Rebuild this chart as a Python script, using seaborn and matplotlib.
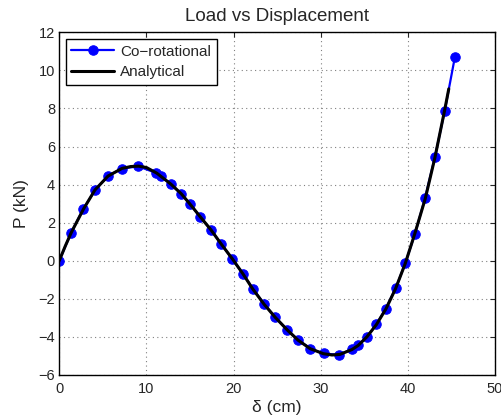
import numpy as np
import pandas as pd
import matplotlib
matplotlib.use("Agg")
import matplotlib.pyplot as plt
import seaborn as sns

# Co-rotational solution (markers)
x_cr = [0, 1.36, 2.76, 4.13, 5.60, 7.16, 9.06, 11.14, 11.70, 12.80, 13.94, 15.03,
        16.17, 17.39, 18.60, 19.85, 21.10, 22.24, 23.52, 24.77, 26.17, 27.40, 28.80,
        30.34, 32.10, 33.60, 34.24, 35.34, 36.40, 37.47, 38.60, 39.70, 40.83, 41.97,
        43.10, 44.24, 45.40]
y_cr = [0, 1.47, 2.72, 3.72, 4.45, 4.84, 4.96, 4.61, 4.43, 4.03, 3.53, 2.98,
        2.30, 1.64, 0.87, 0.09, -0.70, -1.48, -2.27, -2.96, -3.63, -4.15, -4.61,
        -4.87, -4.94, -4.64, -4.45, -3.98, -3.33, -2.51, -1.45, -0.14, 1.43, 3.28,
        5.43, 7.89, 10.70]

# Analytical curve
x_an = [0, 0.7, 1.4, 2.8, 4.1, 5.6, 7.2, 8.2, 9.1, 10.0, 11.2, 12.8, 14.0, 15.0,
        16.2, 17.4, 18.6, 19.9, 21.1, 22.2, 23.5, 24.8, 26.2, 27.4, 28.8, 30.3,
        31.3, 32.2, 33.6, 34.3, 35.3, 36.4, 37.5, 38.6, 39.7, 40.8, 42.0, 43.1,
        44.2, 44.7]
y_an = [0, 0.78, 1.50, 2.73, 3.72, 4.45, 4.85, 4.95, 4.97, 4.90, 4.60, 4.03, 3.52,
        2.98, 2.30, 1.63, 0.87, 0.08, -0.70, -1.48, -2.28, -2.98, -3.65, -4.17,
        -4.62, -4.88, -4.95, -4.92, -4.66, -4.45, -4.00, -3.35, -2.52, -1.46,
        -0.15, 1.42, 3.26, 5.40, 7.85, 9.03]

x_ticks = [0, 10, 20, 30, 40, 50]
y_ticks = [-6, -4, -2, 0, 2, 4, 6, 8, 10, 12]

sns.set_style("white")
plt.rcParams['font.family'] = ['Liberation Sans', 'DejaVu Sans']

fig = plt.figure(figsize=(5.02, 4.18), dpi=100)
ax = fig.add_axes([0.118, 0.1029, 0.868, 0.8198])

cr = pd.DataFrame({'x': x_cr, 'y': y_cr})
an = pd.DataFrame({'x': x_an, 'y': y_an})

sns.lineplot(data=cr, x='x', y='y', ax=ax, color='blue', linewidth=1.6,
             marker='o', markersize=6.8, markeredgecolor='blue',
             sort=False, label='Co\u2212rotational')
sns.lineplot(data=an, x='x', y='y', ax=ax, color='black', linewidth=2.2,
             sort=False, label='Analytical')

ax.set_xlim(0, 50)
ax.set_ylim(-6, 12)
ax.set_xticks(x_ticks)
ax.set_yticks(y_ticks)
ax.grid(True, linestyle=(0, (1, 3)), color='#808080', linewidth=0.8)
ax.tick_params(direction='in', top=True, right=True, length=3.5, width=0.8,
               labelsize=10.5)
ax.tick_params(axis='x', pad=5)
ax.tick_params(axis='y', pad=3)
for s in ax.spines.values():
    s.set_color('black')
    s.set_linewidth(1.0)

ax.set_title('Load vs Displacement', fontsize=13.5, pad=8)
ax.set_xlabel('\u03b4 (cm)', fontsize=12.5, labelpad=3)
ax.set_ylabel('P (kN)', fontsize=12.5, labelpad=7)

leg = ax.legend(loc='upper left', fontsize=11, frameon=True, fancybox=False,
                edgecolor='black', framealpha=1, handlelength=2.8,
                borderaxespad=0.45, borderpad=0.35, labelspacing=0.45,
                handletextpad=0.4)
leg.get_frame().set_linewidth(1.0)

fig.savefig('out.png', dpi=100)
